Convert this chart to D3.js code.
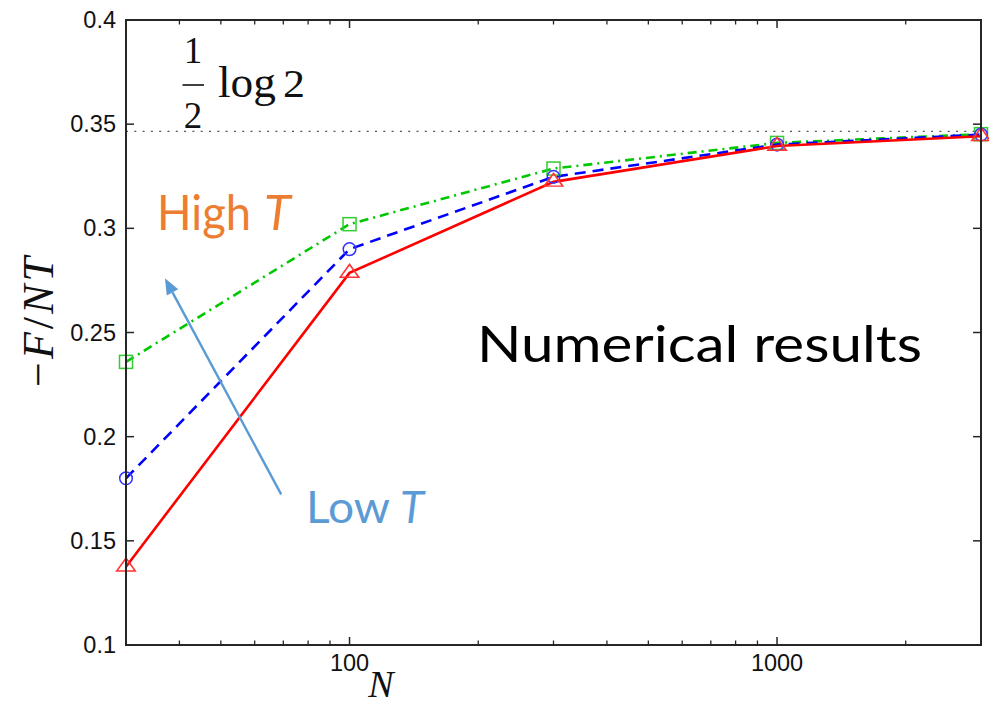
<!DOCTYPE html>
<html>
<head>
<meta charset="utf-8">
<script src="https://cdn.jsdelivr.net/npm/d3@7"></script>
<style>
  html, body { margin: 0; padding: 0; background: #fff; }
  svg { display: block; }
</style>
</head>
<body>
<svg id="chart" width="989" height="714"></svg>
<script>
// System sizes N and free energy per site -F/NT for three temperatures
const sizes = [30, 100, 300, 1000, 3000];
const lowT  = [0.1376, 0.2786, 0.3223, 0.3395, 0.3442];
const midT  = [0.1800, 0.2900, 0.3247, 0.3402, 0.3450];
const highT = [0.2359, 0.3020, 0.3287, 0.3410, 0.3452];

const xTickValues = [100, 1000];
const xTickLabels = ["100", "1000"];
const yTickValues = [0.1, 0.15, 0.2, 0.25, 0.3, 0.35, 0.4];
const yTickLabels = ["0.1", "0.15", "0.2", "0.25", "0.3", "0.35", "0.4"];
const limitValue = 0.5 * Math.log(2);

const W = 989, H = 714;
const margin = { top: 20, right: 8, bottom: 69, left: 126 };
const x0 = margin.left, x1 = W - margin.right;
const y0 = margin.top, y1 = H - margin.bottom;

const svg = d3.select("#chart");
const x = d3.scaleLog().domain([30, 3000]).range([x0, x1]);
const y = d3.scaleLinear().domain([0.1, 0.4]).range([y1, y0]);

const axisColor = "#262626";
const minorX = [40, 50, 60, 70, 80, 90, 200, 300, 400, 500, 600, 700, 800, 900, 2000];

// Reference limit (1/2) log 2
svg.append("line")
  .attr("x1", x0).attr("x2", x1)
  .attr("y1", y(limitValue)).attr("y2", y(limitValue))
  .attr("stroke", "#555").attr("stroke-width", 1.2)
  .attr("stroke-dasharray", "2,6.3");

// Series
const series = [
  { name: "high", values: highT, color: "#00c800", marker: "#33cc33", dash: "9,5,2,5", shape: "square" },
  { name: "mid",  values: midT,  color: "#0000ff", marker: "#3333ff", dash: "11,7",   shape: "circle" },
  { name: "low",  values: lowT,  color: "#ff0000", marker: "#ff3333", dash: null,     shape: "triangle" }
];

const line = d3.line().x(d => x(d[0])).y(d => y(d[1]));
series.forEach(s => {
  svg.append("path")
    .datum(sizes.map((n, i) => [n, s.values[i]]))
    .attr("d", line)
    .attr("fill", "none")
    .attr("stroke", s.color)
    .attr("stroke-width", 2.6)
    .attr("stroke-dasharray", s.dash);
});

series.forEach(s => {
  const g = svg.append("g");
  const pts = sizes.map((n, i) => [n, s.values[i]]);
  if (s.shape === "square") {
    g.selectAll("rect").data(pts).join("rect")
      .attr("x", d => x(d[0]) - 6.5).attr("y", d => y(d[1]) - 6.5)
      .attr("width", 13).attr("height", 13)
      .attr("fill", "none").attr("stroke", s.marker).attr("stroke-width", 1.5);
  } else if (s.shape === "circle") {
    g.selectAll("circle").data(pts).join("circle")
      .attr("cx", d => x(d[0])).attr("cy", d => y(d[1])).attr("r", 6.3)
      .attr("fill", "none").attr("stroke", s.marker).attr("stroke-width", 1.5);
  } else {
    const tri = d3.symbol().type(d3.symbolTriangle).size(95);
    g.selectAll("path").data(pts).join("path")
      .attr("d", tri)
      .attr("transform", d => `translate(${x(d[0])},${y(d[1])}) scale(1.25,1)`)
      .attr("fill", "none").attr("stroke", s.marker).attr("stroke-width", 1.4);
  }
});

// Frame and ticks
const frame = svg.append("g").attr("stroke", axisColor).attr("fill", "none");
frame.append("rect")
  .attr("x", x0).attr("y", y0).attr("width", x1 - x0).attr("height", y1 - y0)
  .attr("stroke-width", 2);

xTickValues.forEach(v => {
  frame.append("line").attr("x1", x(v)).attr("x2", x(v)).attr("y1", y1).attr("y2", y1 - 8).attr("stroke-width", 1.5);
  frame.append("line").attr("x1", x(v)).attr("x2", x(v)).attr("y1", y0).attr("y2", y0 + 8).attr("stroke-width", 1.5);
});
minorX.forEach(v => {
  frame.append("line").attr("x1", x(v)).attr("x2", x(v)).attr("y1", y1).attr("y2", y1 - 4.5).attr("stroke-width", 1.3);
  frame.append("line").attr("x1", x(v)).attr("x2", x(v)).attr("y1", y0).attr("y2", y0 + 4.5).attr("stroke-width", 1.3);
});
yTickValues.forEach(v => {
  frame.append("line").attr("x1", x0).attr("x2", x0 + 8).attr("y1", y(v)).attr("y2", y(v)).attr("stroke-width", 1.5);
  frame.append("line").attr("x1", x1).attr("x2", x1 - 8).attr("y1", y(v)).attr("y2", y(v)).attr("stroke-width", 1.5);
});

// Tick labels
const tickFont = "'Liberation Sans', Arial, sans-serif";
svg.append("g").selectAll("text").data(yTickValues).join("text")
  .attr("x", x0 - 10).attr("y", d => y(d))
  .attr("text-anchor", "end").attr("dominant-baseline", "central")
  .attr("font-family", tickFont).attr("font-size", 23.5).attr("fill", "#111")
  .text((d, i) => yTickLabels[i]);

svg.append("g").selectAll("text").data(xTickValues).join("text")
  .attr("x", d => x(d)).attr("y", y1 + 26)
  .attr("text-anchor", "middle")
  .attr("font-family", tickFont).attr("font-size", 23.5).attr("fill", "#111")
  .text((d, i) => xTickLabels[i]);

// Axis titles
const serif = "'Liberation Serif', 'DejaVu Serif', serif";
svg.append("text")
  .attr("x", 381).attr("y", 697)
  .attr("text-anchor", "middle")
  .attr("font-family", serif).attr("font-size", 38).attr("font-style", "italic")
  .attr("fill", "#111")
  .text("N");

const yTitle = svg.append("text")
  .attr("transform", "translate(53,322) rotate(-90)")
  .attr("text-anchor", "middle")
  .attr("font-family", serif).attr("font-size", 44).attr("fill", "#111")
  .attr("textLength", 130).attr("lengthAdjust", "spacing");
yTitle.append("tspan").text("\u2212");
yTitle.append("tspan").attr("font-style", "italic").text("F");
yTitle.append("tspan").text("/");
yTitle.append("tspan").attr("font-style", "italic").text("NT");

// (1/2) log 2 label
const frac = svg.append("g").attr("font-family", serif).attr("fill", "#111");
frac.append("text").attr("x", 193).attr("y", 63).attr("text-anchor", "middle").attr("font-size", 37).text("1");
frac.append("line").attr("x1", 182.5).attr("x2", 204).attr("y1", 85).attr("y2", 85).attr("stroke", "#111").attr("stroke-width", 1.6);
frac.append("text").attr("x", 193).attr("y", 128).attr("text-anchor", "middle").attr("font-size", 37).text("2");
frac.append("text").attr("x", 218).attr("y", 97).attr("font-size", 44)
  .attr("textLength", 58).attr("lengthAdjust", "spacingAndGlyphs").text("log");
frac.append("text").attr("x", 283).attr("y", 97).attr("font-size", 40)
  .attr("textLength", 22).attr("lengthAdjust", "spacingAndGlyphs").text("2");

// Annotations
const sans = "Lato, 'Open Sans', sans-serif";
svg.append("text")
  .attr("x", 157).attr("y", 230)
  .attr("font-family", sans).attr("font-size", 49).attr("fill", "#ED7D31")
  .attr("textLength", 94).attr("lengthAdjust", "spacingAndGlyphs")
  .text("High");
svg.append("text")
  .attr("x", 264).attr("y", 230)
  .attr("font-family", sans).attr("font-size", 49).attr("font-style", "italic").attr("fill", "#ED7D31")
  .text("T");

svg.append("text")
  .attr("x", 306).attr("y", 523)
  .attr("font-family", sans).attr("font-size", 44).attr("fill", "#5B9BD5")
  .attr("textLength", 84).attr("lengthAdjust", "spacingAndGlyphs")
  .text("Low");
svg.append("text")
  .attr("x", 400).attr("y", 523)
  .attr("font-family", sans).attr("font-size", 44).attr("font-style", "italic").attr("fill", "#5B9BD5")
  .text("T");

svg.append("text")
  .attr("x", 477).attr("y", 362)
  .attr("font-family", sans).attr("font-size", 51).attr("fill", "#000")
  .attr("textLength", 445).attr("lengthAdjust", "spacingAndGlyphs")
  .text("Numerical results");

// Arrow from low T towards high T
const arrowStart = [69.2, 0.1723], arrowTip = [37.0, 0.276];
const ax0 = x(arrowStart[0]), ay0 = y(arrowStart[1]);
const ax1 = x(arrowTip[0]), ay1 = y(arrowTip[1]);
const ang = Math.atan2(ay1 - ay0, ax1 - ax0);
const headLen = 16, headHalf = 6.5;
const bx = ax1 - headLen * Math.cos(ang), by = ay1 - headLen * Math.sin(ang);
svg.append("line")
  .attr("x1", ax0).attr("y1", ay0).attr("x2", bx).attr("y2", by)
  .attr("stroke", "#5B9BD5").attr("stroke-width", 2.4);
svg.append("path")
  .attr("d", `M${ax1},${ay1}L${bx + headHalf * Math.sin(ang)},${by - headHalf * Math.cos(ang)}L${bx - headHalf * Math.sin(ang)},${by + headHalf * Math.cos(ang)}Z`)
  .attr("fill", "#5B9BD5");
</script>
</body>
</html>
